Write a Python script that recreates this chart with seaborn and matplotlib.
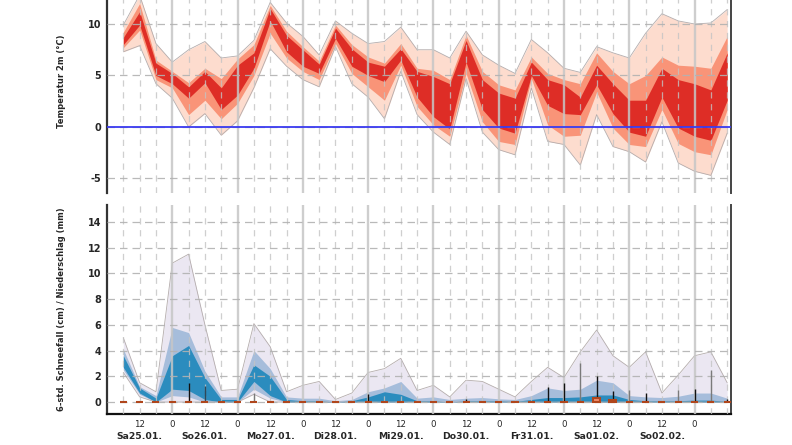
import matplotlib
matplotlib.use("Agg")
import matplotlib.pyplot as plt
import pandas as pd
import seaborn as sns

# forecast steps, hours after Sa25.01. 00 UTC (every 6 h)
hours = [6, 12, 18, 24, 30, 36, 42, 48, 54, 60, 66, 72, 78, 84, 90, 96, 102, 108, 114,
         120, 126, 132, 138, 144, 150, 156, 162, 168, 174, 180, 186, 192, 198, 204,
         210, 216, 222, 228]

# temperature 2m ensemble quantiles (degC)
t_outer_lo = [7.3, 7.9, 4.2, 2.8, 0.0, 1.3, -0.8, 0.6, 3.8, 7.6, 5.9, 4.6, 3.9, 7.8, 4.2, 2.9, 0.8, 5.4, 1.2,
              -0.5, -1.7, 4.7, -0.5, -2.2, -2.7, 3.8, -1.4, -1.7, -3.7, 1.2, -1.9, -2.4, -3.4, 0.5,
              -3.5, -4.3, -4.7, -0.6]
t_mid_lo = [7.7, 9.4, 4.6, 3.8, 1.2, 2.6, 0.8, 2.3, 5.0, 9.1, 6.7, 5.4, 4.6, 8.1, 5.2, 3.9, 2.6, 6.0, 2.0,
            0.2, -0.9, 5.2, 0.5, -1.4, -1.7, 4.7, 0.2, -0.9, -0.8, 3.4, -0.1, -1.7, -1.9, 1.7,
            -1.6, -2.4, -2.7, 1.7]
t_in_lo = [8.0, 9.9, 5.0, 4.2, 2.8, 4.3, 1.7, 3.1, 5.7, 10.3, 7.3, 5.9, 5.2, 8.6, 5.9, 5.0, 4.4, 6.5, 2.9,
           1.0, -0.2, 6.3, 1.7, -0.1, -0.6, 5.0, 2.1, 1.3, 1.2, 4.1, 1.3, -0.5, -0.9, 2.9,
           -0.1, -0.9, -1.3, 2.6]
t_in_hi = [8.7, 11.2, 6.2, 5.2, 3.9, 5.4, 3.8, 6.0, 7.2, 11.5, 8.9, 7.5, 6.1, 9.6, 7.6, 6.3, 5.9, 7.6, 5.4,
           4.9, 4.2, 8.4, 4.6, 3.3, 2.8, 6.3, 4.6, 4.1, 2.9, 6.0, 4.2, 2.6, 2.6, 5.7,
           4.6, 4.2, 3.6, 7.2]
t_mid_hi = [9.2, 12.0, 6.5, 5.4, 4.3, 5.7, 4.7, 6.6, 8.0, 11.8, 9.3, 7.8, 6.4, 9.9, 8.0, 6.8, 6.2, 8.1, 5.7,
            5.5, 4.6, 8.9, 5.4, 4.1, 3.6, 6.8, 5.2, 4.6, 4.2, 7.2, 5.4, 4.2, 5.0, 6.8,
            6.0, 5.9, 5.7, 8.8]
t_outer_hi = [9.9, 12.8, 8.1, 6.3, 7.5, 8.3, 6.7, 6.9, 8.4, 12.1, 10.1, 8.8, 7.0, 10.3, 9.1, 8.1, 8.3, 9.7, 7.5,
              7.5, 6.7, 9.3, 7.0, 6.0, 5.2, 8.5, 7.2, 5.7, 5.3, 7.8, 7.2, 6.7, 9.1, 11.0,
              10.3, 10.0, 10.1, 11.4]

# 6-hourly snowfall (cm) ensemble quantiles
s_outer_lo = [2.3, 0.4, 0, 0, 0, 0, 0, 0, 0.6, 0, 0, 0, 0, 0, 0, 0, 0, 0, 0,
              0, 0, 0, 0, 0, 0, 0, 0, 0, 0, 0, 0, 0, 0, 0, 0, 0, 0, 0]
s_mid_lo = [2.5, 0.6, 0, 0.5, 0.4, 0, 0, 0, 1.0, 0.3, 0, 0, 0, 0, 0, 0, 0, 0, 0,
            0, 0, 0, 0, 0, 0, 0, 0, 0, 0, 0, 0, 0, 0, 0, 0, 0, 0, 0]
s_in_lo = [2.7, 0.7, 0, 1.0, 0.9, 0.2, 0, 0, 1.6, 0.5, 0, 0, 0, 0, 0, 0, 0, 0, 0,
           0, 0, 0, 0, 0, 0, 0, 0, 0, 0, 0, 0, 0, 0, 0, 0, 0, 0, 0]
s_in_hi = [3.6, 1.1, 0.3, 3.6, 4.4, 1.9, 0.2, 0.2, 2.9, 2.0, 0.2, 0.1, 0.1, 0.0, 0.1, 0.4, 0.8, 0.6, 0.1,
           0.1, 0.0, 0.1, 0.1, 0.1, 0.05, 0.2, 0.35, 0.35, 0.4, 0.55, 0.55, 0.2, 0.1, 0.1,
           0.1, 0.15, 0.15, 0.05]
s_mid_hi = [4.1, 1.2, 0.5, 5.8, 5.4, 2.4, 0.4, 0.4, 4.0, 2.6, 0.4, 0.3, 0.3, 0.1, 0.2, 0.8, 1.1, 1.6, 0.3,
            0.4, 0.2, 0.3, 0.35, 0.25, 0.2, 0.5, 1.1, 0.9, 1.0, 1.7, 1.5, 0.5, 0.4, 0.35,
            0.45, 0.7, 0.7, 0.3]
s_outer_hi = [5.0, 1.5, 0.8, 10.8, 11.5, 6.0, 0.9, 1.0, 6.1, 4.3, 0.8, 1.3, 1.6, 0.2, 0.7, 2.3, 2.6, 3.4, 0.9,
              1.3, 0.4, 1.7, 1.6, 1.0, 0.4, 1.6, 2.7, 1.9, 3.9, 5.6, 3.6, 2.7, 3.9, 0.7,
              2.1, 3.6, 3.9, 1.5]

# 6-hourly precipitation (mm)
precip = [0, 0, 0, 0, 0, 0, 0, 0, 0, 0, 0, 0, 0, 0, 0, 0, 0, 0, 0,
          0, 0, 0, 0, 0, 0, 0, 0, 0, 0, 0.3, 0.15, 0, 0, 0, 0, 0, 0, 0]

# precipitation spread whiskers
stem_hours = [30, 36, 54, 96, 132, 162, 168, 174, 180, 186, 192, 198, 210, 216, 222, 228]
stem_top = [1.5, 1.25, 0.7, 0.6, 0.2, 1.2, 1.5, 3.0, 2.0, 0.85, 0.9, 0.7, 0.9, 1.0, 2.5, 0.2]
stem_kind = ['a', 'b', 'c', 'a', 'a', 'a', 'a', 'c', 'a', 'a', 'c', 'a', 'c', 'a', 'c', 'a']

tick_hours = [12, 24, 36, 48, 60, 72, 84, 96, 108, 120, 132, 144, 156, 168, 180, 192, 204, 216]
tick_labels = ['12', '0', '12', '0', '12', '0', '12', '0', '12', '0', '12', '0', '12', '0', '12', '0', '12', '0']
day_hours = [12, 36, 60, 84, 108, 132, 156, 180, 204]
day_labels = ['Sa25.01.', 'So26.01.', 'Mo27.01.', 'Di28.01.', 'Mi29.01.',
              'Do30.01.', 'Fr31.01.', 'Sa01.02.', 'So02.02.']

temp = pd.DataFrame({'h': hours, 'lo0': t_outer_lo, 'lo1': t_mid_lo, 'lo2': t_in_lo,
                     'hi2': t_in_hi, 'hi1': t_mid_hi, 'hi0': t_outer_hi})
snow = pd.DataFrame({'h': hours, 'lo0': s_outer_lo, 'lo1': s_mid_lo, 'lo2': s_in_lo,
                     'hi2': s_in_hi, 'hi1': s_mid_hi, 'hi0': s_outer_hi})

sns.set_style("white")
plt.rcParams['font.family'] = ['DejaVu Sans']

W, H = 792, 445
fig = plt.figure(figsize=(W / 100, H / 100), dpi=100)
ax_t = fig.add_axes([107 / W, 1 - 193 / H, 624 / W, 224 / H])
ax_p = fig.add_axes([107 / W, 1 - 414 / H, 624 / W, 209 / H])

XMAX = 229.4


def draw_bands(ax, df, colors):
    for (lo, hi), c in zip([('lo0', 'hi0'), ('lo1', 'hi1'), ('lo2', 'hi2')], colors):
        ax.fill_between(df['h'], df[lo], df[hi], color=c, lw=0, zorder=1)
    sns.lineplot(data=df, x='h', y='hi0', ax=ax, color='#b4acac', lw=0.6, zorder=1.5)
    sns.lineplot(data=df, x='h', y='lo0', ax=ax, color='#b4acac', lw=0.6, zorder=1.5)


def time_grid(ax):
    for h in hours:
        if h % 24 == 0:
            ax.axvline(h, color='#c6c6c6', lw=1.7, alpha=0.85, zorder=3)
        else:
            ax.axvline(h, color='#c4c4c4', lw=0.9, ls=(0, (5, 4.5)), alpha=0.8, zorder=3)


def frame(ax, yticks):
    for s in ['top', 'bottom']:
        ax.spines[s].set_visible(False)
    ax.spines['left'].set_color('#333333')
    ax.spines['left'].set_linewidth(1.6)
    ax.spines['right'].set_color('#444444')
    ax.spines['right'].set_linewidth(1.4)
    ax.set_xlim(0, XMAX)
    ax.set_yticks(yticks)
    ax.set_yticklabels([str(v) for v in yticks], fontsize=7, fontweight='bold')
    ax.tick_params(axis='y', length=0, pad=4)
    for v in yticks:
        ax.axhline(v, color='#b2b2b2', lw=0.9, ls=(0, (6, 4)), alpha=0.9, zorder=3)


# temperature panel
draw_bands(ax_t, temp, ['#fddcce', '#f99478', '#de2d26'])
time_grid(ax_t)
frame(ax_t, [-5, 0, 5, 10])
ax_t.axhline(0, color='#3a3af0', lw=1.3, zorder=4)
ax_t.set_ylim(-6.41, 15.34)
ax_t.set_xticks([])
ax_t.set_xlabel('')
ax_t.set_ylabel('Temperatur 2m (°C)', fontsize=6, fontweight='bold')
ax_t.yaxis.set_label_coords(-0.066, 0.5)

# snow / precipitation panel
draw_bands(ax_p, snow, ['#ebe7f2', '#a6bddb', '#2b8cbe'])
time_grid(ax_p)
frame(ax_p, [0, 2, 4, 6, 8, 10, 12, 14])
ax_p.spines['bottom'].set_visible(True)
ax_p.spines['bottom'].set_color('#111111')
ax_p.spines['bottom'].set_linewidth(1.6)
ax_p.set_ylim(-0.93, 15.32)

stem_colors = {'a': '#111111', 'b': '#2f4858', 'c': '#7a7a7a'}
for h, top, k in zip(stem_hours, stem_top, stem_kind):
    ax_p.vlines(h, 0, top, color=stem_colors[k], lw=1.0, zorder=5)
ax_p.bar(hours, precip, width=2.6, color='#f08a6a', edgecolor='#b0461c', linewidth=1.5, zorder=6)

ax_p.set_xticks(tick_hours)
ax_p.set_xticklabels(tick_labels, fontsize=6.2)
ax_p.tick_params(axis='x', length=0, pad=4)
for h, lab in zip(day_hours, day_labels):
    ax_p.annotate(lab, xy=(h, 0), xycoords=('data', 'axes fraction'), xytext=(0, -16.5),
                  textcoords='offset points', ha='center', va='center',
                  fontsize=6.7, fontweight='bold')
ax_p.set_xlabel('')
ax_p.set_ylabel('6-std. Schneefall (cm) / Niederschlag (mm)', fontsize=6, fontweight='bold')
ax_p.yaxis.set_label_coords(-0.066, 0.5)

fig.savefig('out.png', dpi=100)
